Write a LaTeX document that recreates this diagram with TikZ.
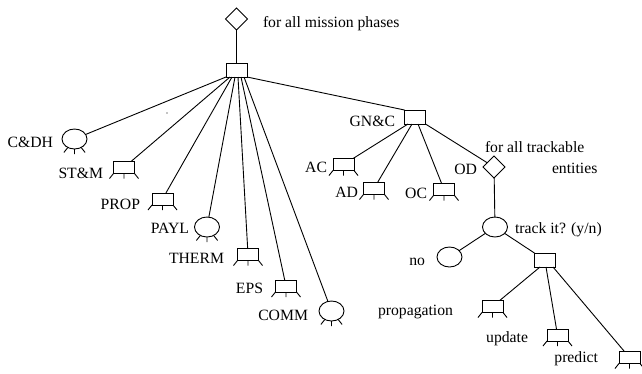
\documentclass[tikz,border=0pt]{standalone}
\usepackage{fontspec}
\setmainfont{Liberation Serif}
\usetikzlibrary{shapes.geometric}
\begin{document}
\begin{tikzpicture}[x=1pt,y=-1pt,
  line width=0.9pt,
  every node/.style={inner sep=0pt, outer sep=0pt},
  txt/.style={font=\fontsize{15.7}{18}\selectfont},
  plainbox/.style={draw, rectangle, minimum width=21pt, minimum height=14pt},
  legbox/.style={draw, rectangle, minimum width=21pt, minimum height=12pt},
  bubble/.style={draw, ellipse, minimum width=25pt, minimum height=20pt},
  loopdiamond/.style={draw, diamond, minimum width=22pt, minimum height=22pt},
  leg/.style={line width=0.9pt}
]
\useasboundingbox (0,0) rectangle (642,373);

% iteration over mission phases and the spacecraft root
\node[loopdiamond] (D0) at (236.5,19) {};
\node[txt, anchor=base west] (D0lbl) at (263,27) {for all mission phases};
\node[plainbox] (B0) at (236.5,70) {};

% subsystems
\node[bubble] (cdh) at (74.5,139) {};
\node[txt, anchor=base east] (cdhlbl) at (53,147) {C\&DH};
\node[legbox] (stm) at (124,167.5) {};
\node[txt, anchor=base east] (stmlbl) at (103,178) {ST\&M};
\node[legbox] (prop) at (162.5,199) {};
\node[txt, anchor=base east] (proplbl) at (140,209) {PROP};
\node[bubble] (payl) at (207,227) {};
\node[txt, anchor=base east] (payllbl) at (189,233) {PAYL};
\node[legbox] (therm) at (248,254.5) {};
\node[txt, anchor=base east] (thermlbl) at (224,263) {THERM};
\node[legbox] (eps) at (286,286) {};
\node[txt, anchor=base east] (epslbl) at (263,293) {EPS};
\node[bubble] (comm) at (331.5,311) {};
\node[txt, anchor=base east] (commlbl) at (308,320) {COMM};

% guidance, navigation and control
\node[plainbox] (gnc) at (415,117) {};
\node[txt, anchor=base east] (gnclbl) at (395,126) {GN\&C};
\node[legbox] (ac) at (343.5,164.5) {};
\node[txt, anchor=base east] (aclbl) at (327,172) {AC};
\node[legbox] (ad) at (374,188.5) {};
\node[txt, anchor=base east] (adlbl) at (358,197) {AD};
\node[legbox] (oc) at (444,189.5) {};
\node[txt, anchor=base east] (oclbl) at (427,198) {OC};
\node[loopdiamond] (od) at (494,167) {};
\node[txt, anchor=base east] (odlbl) at (477,174) {OD};
\node[txt, anchor=base west] (odloop) at (485,152) {for all trackable};
\node[txt, anchor=base west] (odloop2) at (552,173) {entities};

% tracking decision
\node[bubble] (trk) at (495,227) {};
\node[txt, anchor=base west] (trklbl) at (515,233) {track it? (y/n)};
\node[bubble] (no) at (449.5,257) {};
\node[txt, anchor=base east] (nolbl) at (425,265) {no};
\node[plainbox] (bt) at (545,260) {};
\node[legbox] (prp) at (492.5,306.5) {};
\node[txt, anchor=base east] (prplbl) at (453,315) {propagation};
\node[legbox] (upd) at (557.5,335) {};
\node[txt, anchor=base east] (updlbl) at (528,342) {update};
\node[legbox] (prd) at (629.5,357.5) {};
\node[txt, anchor=base east] (prdlbl) at (598,362) {predict};

% legs
\foreach \n in {stm,prop,therm,eps,ac,ad,oc,prp,upd,prd}
  \draw[leg] (\n.south west) -- ++(-4,5) (\n.south) -- ++(0,5) (\n.south east) -- ++(4,5);
\foreach \n in {cdh,payl,comm}
  \draw[leg] (\n.-128) -- ++(-4,5) (\n.south) -- ++(0,5) (\n.-52) -- ++(4,5);

% connectors
\draw (D0) -- (B0);
\draw (B0.south west) -- (cdh);
\draw ([xshift=-6.5pt]B0.south) -- (stm);
\draw ([xshift=-4.5pt]B0.south) -- (prop);
\draw ([xshift=-1.5pt]B0.south) -- (payl);
\draw ([xshift=1.5pt]B0.south) -- (therm);
\draw ([xshift=4.5pt]B0.south) -- (eps);
\draw ([xshift=7.5pt]B0.south) -- (comm);
\draw (B0.south east) -- (gnc.north west);

\draw ([xshift=-7pt]gnc.south) -- (ac);
\draw ([xshift=-3pt]gnc.south) -- (ad);
\draw ([xshift=3pt]gnc.south) -- (oc);
\draw (gnc.south east) -- (od);
\draw (od) -- (trk);
\draw (trk) -- (no);
\draw (trk) -- (bt);
\draw ([xshift=-5pt]bt.south) -- (prp);
\draw ([xshift=1pt]bt.south) -- (upd);
\draw ([xshift=8pt]bt.south) -- (prd);

% small mark
\fill (167,113) circle (0.6);
\end{tikzpicture}
\end{document}
